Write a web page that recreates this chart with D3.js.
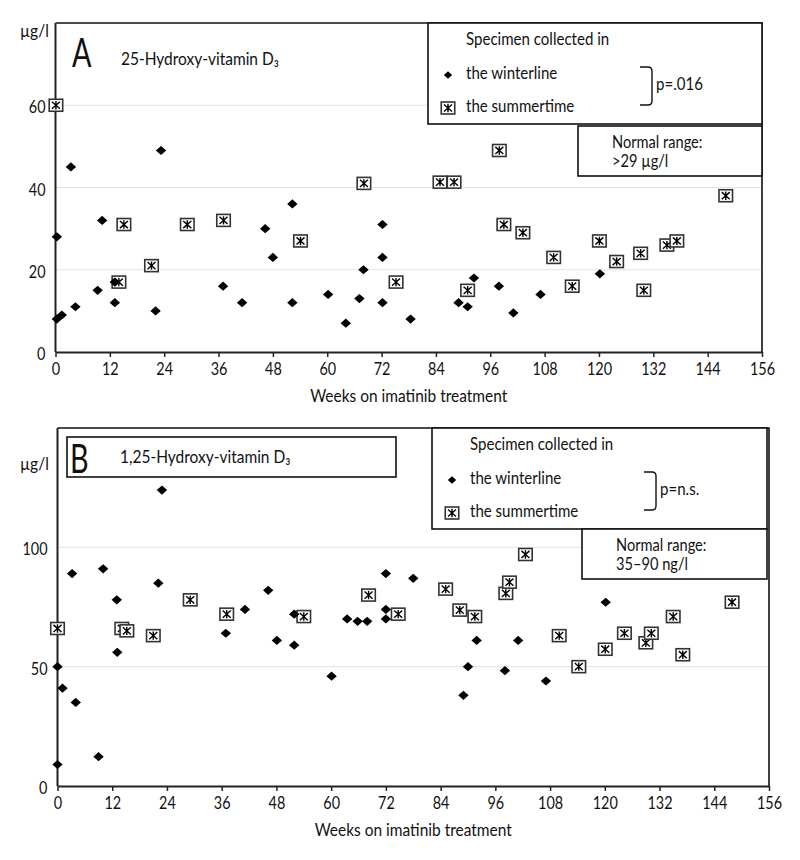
<!DOCTYPE html>
<html><head><meta charset="utf-8">
<script src="https://cdn.jsdelivr.net/npm/d3@7"></script>
<style>body{margin:0;background:#fff}svg{display:block}text{font-family:"Liberation Sans Narrow","Lato",sans-serif;font-stretch:condensed;fill:#111}</style>
</head><body>
<svg id="c" width="800" height="860"></svg>
<script>
// ---- data ----
const xTicks = [0,12,24,36,48,60,72,84,96,108,120,132,144,156];
const yTicksA = [0,20,40,60];
const yTicksB = [0,50,100];

const winterA_weeks = [0.3,0.3,1.4,3.4,4.4,9.3,10.3,13.1,13.1,22.1,23.3,37,41.2,46.3,48,52.3,52.3,60.2,64.1,67.1,68,72.2,72.2,72.2,78.4,89,91,92.4,97.9,101.1,107.1,120.2];
const winterA_vals  = [28,8,9,45,11,15,32,17,12,10,49,16,12,30,23,36,12,14,7,13,20,31,23,12,8,12,11,18,16,9.5,14,19];
const summerA_weeks = [0.1,14,15.1,21.2,29.1,37.1,54.1,68.1,75.2,84.9,88,91,98,99,103.2,110,114.1,120.1,123.9,129.2,129.9,135,137.2,148];
const summerA_vals  = [60,17,31,21,31,32,27,41,17,41.3,41.3,15,49,31,29,23,16,27,22,24,15,26,27,38];

const winterB_weeks = [0,0,1.1,3.2,4,9,10,13,13.1,22.1,22.9,36.9,41.1,46.2,48.1,51.9,51.9,60.1,63.5,65.8,67.9,72,72,72,78,89,90,91.9,98.1,101,107.1,120.2];
const winterB_vals  = [50,9,41,89,35,12.3,91,78,56,85,124,64,74,82,61,72,59,46,70,69,69,89,74,70,87,38,50,61,48.3,61,44,77];
const summerB_weeks = [0,14.1,15.2,21,29.1,37.1,54,68.2,74.7,85.1,88.2,91.5,98.3,99.1,102.6,110,114.3,120.1,124.3,129,130.2,135,137.1,147.9];
const summerB_vals  = [66,66,65,63,78,72,71,80,72,82.5,73.7,71,80.7,85.4,97,63,50,57.3,64,60,64,71,55,77];

const panels = [
  {letter:"A", title:"25-Hydroxy-vitamin D\u2083", yMax:80, yTicks:yTicksA,
   winter:{w:winterA_weeks,v:winterA_vals}, summer:{w:summerA_weeks,v:summerA_vals},
   pText:"p=.016", normal:["Normal range:",">29 µg/l"],
   L:55.5, R:762, T:23, B:352, unitY:37, titleBox:false,
   leg:{x:428,y:23,w:334,h:101}, norm:{x:578,y:126,w:184,h:50}},
  {letter:"B", title:"1,25-Hydroxy-vitamin D\u2083", yMax:150, yTicks:yTicksB,
   winter:{w:winterB_weeks,v:winterB_vals}, summer:{w:summerB_weeks,v:summerB_vals},
   pText:"p=n.s.", normal:["Normal range:","35\u201390 ng/l"],
   L:57.5, R:769, T:428, B:786, unitY:470, titleBox:true,
   leg:{x:432,y:428,w:335,h:101}, norm:{x:582,y:529,w:185,h:50}}
];

const svg = d3.select("#c");

function condense(node, f) {
  const L = node.getComputedTextLength();
  node.setAttribute("textLength", (L*f).toFixed(1));
  node.setAttribute("lengthAdjust","spacingAndGlyphs");
}
function diamond(g, cx, cy, s) {
  g.append("path").attr("d", `M${cx-s*5.2},${cy} L${cx},${cy-s*4.6} L${cx+s*5.2},${cy} L${cx},${cy+s*4.6} Z`).attr("fill","#000");
}
function boxMark(g, cx, cy) {
  const w=13.5,h=12;
  const m=g.append("g").attr("transform",`translate(${cx},${cy})`);
  m.append("rect").attr("x",-w/2).attr("y",-h/2).attr("width",w).attr("height",h)
   .attr("fill","#fff").attr("stroke","#333").attr("stroke-width",1.6);
  m.append("path").attr("d","M-4,-3.6 L4,3.6 M4,-3.6 L-4,3.6 M0,-4.2 L0,4.2")
   .attr("stroke","#000").attr("stroke-width",1.4).attr("fill","none");
}
function bigLetter(g, x, y, s) {
  g.append("text").attr("class","big").attr("transform",`translate(${x},${y}) scale(0.72,1)`).attr("font-size",40).text(s);
}

panels.forEach(p => {
  const x = d3.scaleLinear().domain([0,156]).range([p.L,p.R]);
  const y = d3.scaleLinear().domain([0,p.yMax]).range([p.B,p.T]);
  const g = svg.append("g");

  g.selectAll(".grid").data(p.yTicks.filter(t=>t>0)).join("line")
    .attr("x1",p.L).attr("x2",p.R).attr("y1",d=>y(d)).attr("y2",d=>y(d))
    .attr("stroke","#e3e3e3").attr("stroke-width",1);

  g.append("path").attr("d",`M${p.L},${p.T} L${p.R},${p.T} L${p.R},${p.B}`)
    .attr("fill","none").attr("stroke","#111").attr("stroke-width",1.6);

  const xa = g.append("g").attr("transform",`translate(0,${p.B})`)
    .call(d3.axisBottom(x).tickValues(xTicks).tickSize(5).tickSizeOuter(0).tickPadding(5));
  xa.select(".domain").attr("stroke","#222").attr("stroke-width",2);
  xa.selectAll(".tick line").attr("stroke","#222").attr("stroke-width",1.5);
  xa.selectAll(".tick text").attr("class","num").attr("font-size",18).attr("fill","#111");

  const ya = g.append("g").attr("transform",`translate(${p.L},0)`)
    .call(d3.axisLeft(y).tickValues(p.yTicks).tickSize(0).tickPadding(10));
  ya.select(".domain").attr("stroke","#222").attr("stroke-width",2).attr("d",`M0,${p.T}V${p.B}`);
  ya.selectAll(".tick text").attr("class","num").attr("font-size",18).attr("fill","#111").attr("dy","0.42em");

  g.append("text").attr("x",(p.L+p.R)/2).attr("y",p.B+50).attr("text-anchor","middle")
    .attr("font-size",18).text("Weeks on imatinib treatment");
  g.append("text").attr("x",20).attr("y",p.unitY).attr("font-size",18).text("µg/l");

  if (p.titleBox) {
    g.append("rect").attr("x",67).attr("y",p.T+9).attr("width",329).attr("height",40)
      .attr("fill","#fff").attr("stroke","#111").attr("stroke-width",1.6);
    bigLetter(g, 70, p.T+45, p.letter);
    g.append("text").attr("x",120).attr("y",p.T+35).attr("font-size",18).text(p.title);
  } else {
    bigLetter(g, 72, p.T+44, p.letter);
    g.append("text").attr("x",121).attr("y",p.T+42).attr("font-size",18).text(p.title);
  }

  const lg=p.leg;
  g.append("rect").attr("x",lg.x).attr("y",lg.y).attr("width",lg.w).attr("height",lg.h)
    .attr("fill","#fff").attr("stroke","#111").attr("stroke-width",1.6);
  g.append("text").attr("x",lg.x+38).attr("y",lg.y+22).attr("font-size",17.5).text("Specimen collected in");
  diamond(g, lg.x+20, lg.y+52, 0.8);
  g.append("text").attr("x",lg.x+38).attr("y",lg.y+56).attr("font-size",17.5).text("the winterline");
  boxMark(g, lg.x+20, lg.y+85);
  g.append("text").attr("x",lg.x+38).attr("y",lg.y+89).attr("font-size",17.5).text("the summertime");
  const bx=lg.x+224, by1=lg.y+44, by2=lg.y+82;
  g.append("path").attr("d",`M${bx-12},${by1} L${bx-4},${by1} Q${bx},${by1} ${bx},${by1+4} L${bx},${by2-4} Q${bx},${by2} ${bx-4},${by2} L${bx-12},${by2}`)
    .attr("fill","none").attr("stroke","#111").attr("stroke-width",1.4);
  g.append("text").attr("x",bx+4).attr("y",lg.y+67).attr("font-size",17.5).text(p.pText);

  const nr=p.norm;
  g.append("rect").attr("x",nr.x).attr("y",nr.y).attr("width",nr.w).attr("height",nr.h)
    .attr("fill","#fff").attr("stroke","#111").attr("stroke-width",1.6);
  g.append("text").attr("x",nr.x+34).attr("y",nr.y+22).attr("font-size",17).text(p.normal[0]);
  g.append("text").attr("x",nr.x+34).attr("y",nr.y+41).attr("font-size",17).text(p.normal[1]);

  const mg=g.append("g");
  p.summer.w.forEach((w,i)=>boxMark(mg, x(w), y(p.summer.v[i])));
  p.winter.w.forEach((w,i)=>diamond(mg, x(w), y(p.winter.v[i]), 1));
});

// condense text horizontally to mimic the narrow typeface of the original
svg.selectAll("text:not(.big)").each(function(){
  condense(this, this.classList.contains("num") ? 0.8 : 0.86);
});
</script>
</body></html>
